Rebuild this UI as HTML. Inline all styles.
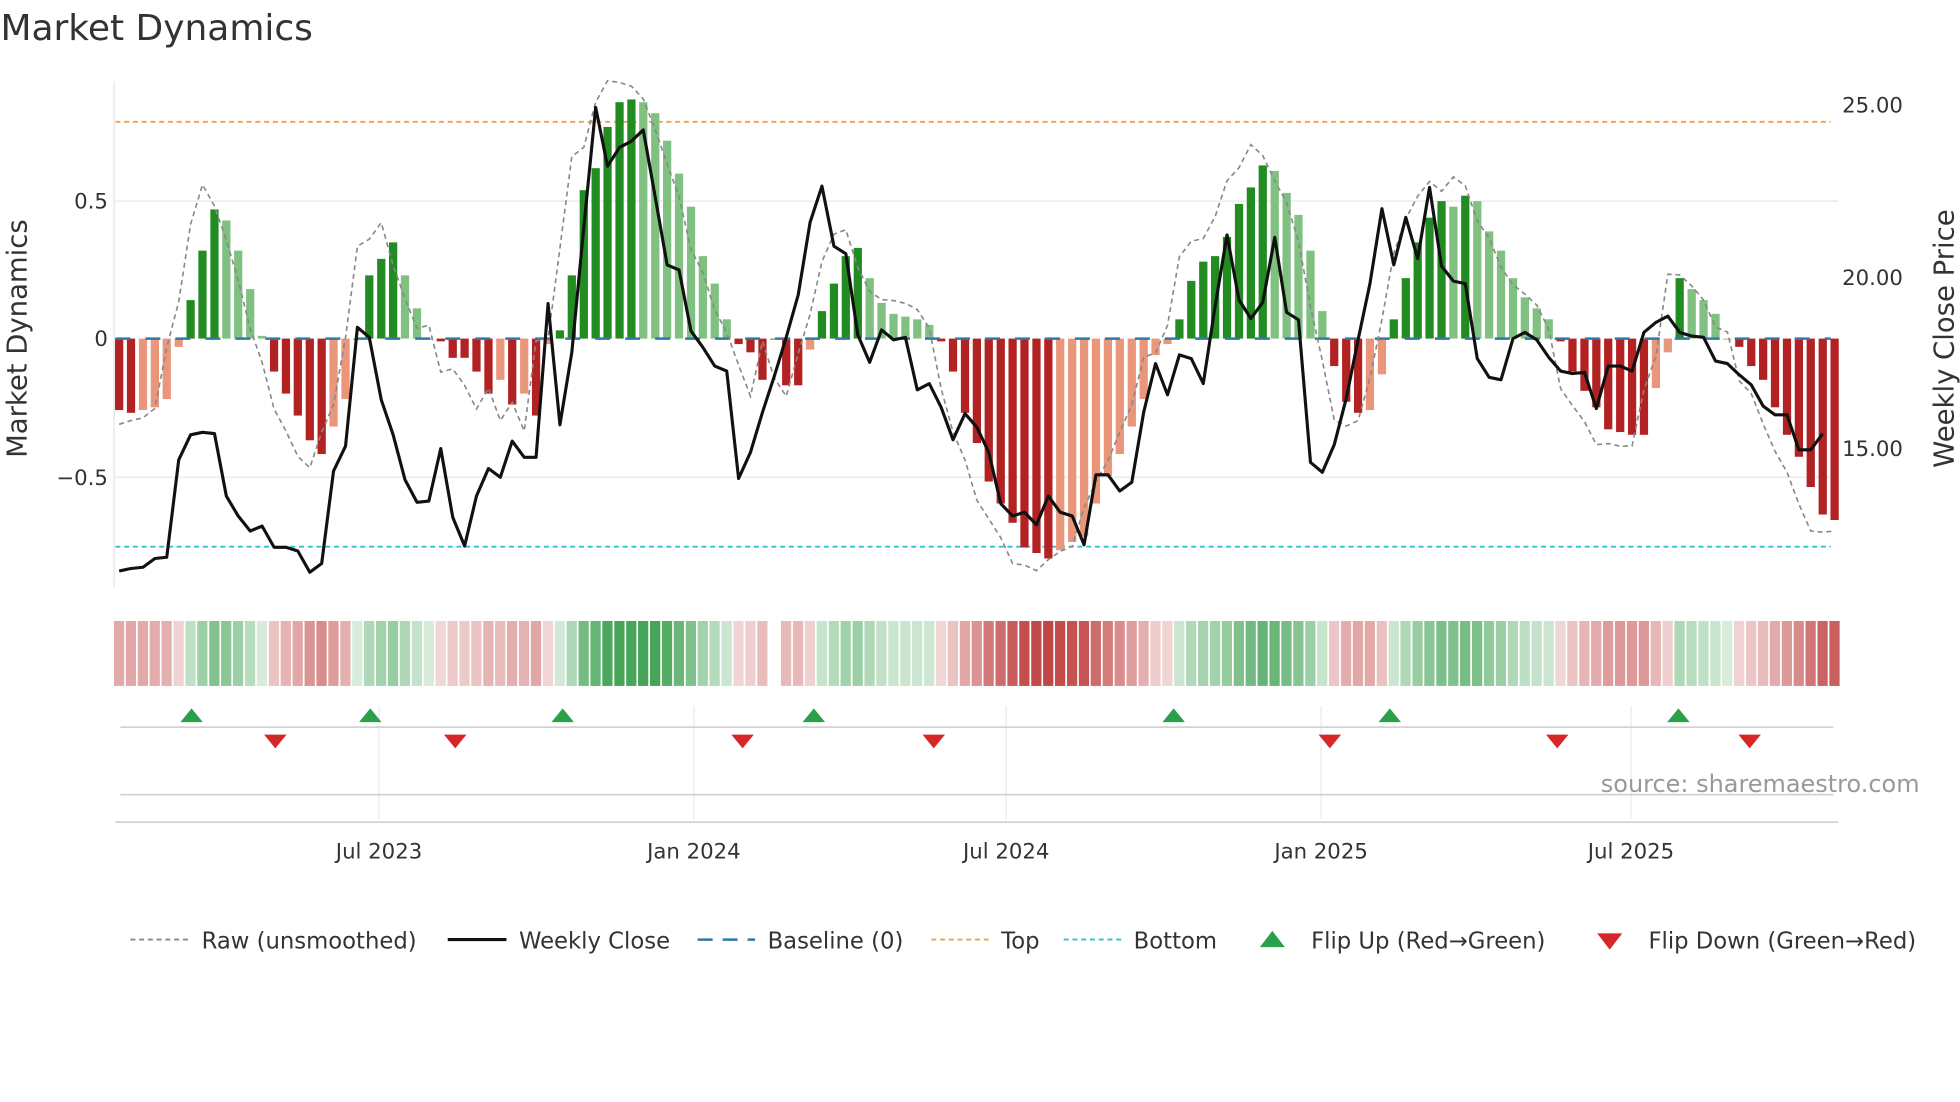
<!DOCTYPE html>
<html><head><meta charset="utf-8"><style>
html,body{margin:0;padding:0;background:#fff;}
svg{display:block;font-family:"DejaVu Sans","Liberation Sans",sans-serif;}
</style></head><body>
<svg id="s" width="1960" height="1102" viewBox="0 0 1568 882" xmlns="http://www.w3.org/2000/svg">
<rect width="1568" height="882" fill="#fff"/>
<text x="0" y="32" font-size="28.8" fill="#333">Market Dynamics</text>
<line x1="92" x2="1471" y1="161" y2="161" stroke="#e8ecef" stroke-width="1.2"/>
<line x1="92" x2="1471" y1="382" y2="382" stroke="#e8ecef" stroke-width="1.2"/>
<line x1="91" x2="91" y1="65" y2="470" stroke="#e4e4e4" stroke-width="1"/>
<text x="86" y="167" font-size="17" fill="#333" text-anchor="end">0.5</text>
<text x="86" y="277" font-size="17" fill="#333" text-anchor="end">0</text>
<text x="86" y="388" font-size="17" fill="#333" text-anchor="end">−0.5</text>
<text x="1474" y="90" font-size="17" fill="#333">25.00</text>
<text x="1474" y="228" font-size="17" fill="#333">20.00</text>
<text x="1474" y="365" font-size="17" fill="#333">15.00</text>
<text transform="translate(21,271) rotate(-90)" font-size="22" fill="#333" text-anchor="middle">Market Dynamics</text>
<text transform="translate(1563,271) rotate(-90)" font-size="22" fill="#333" text-anchor="middle">Weekly Close Price</text>
<line x1="92" x2="1465" y1="97.5" y2="97.5" stroke="#f0a050" stroke-width="1.5" stroke-dasharray="4,3"/>
<line x1="92" x2="1465" y1="437.5" y2="437.5" stroke="#30c0d8" stroke-width="1.5" stroke-dasharray="4,3"/>
<g id="bars"></g>
<line x1="92" x2="1465" y1="271" y2="271" stroke="#2f78a8" stroke-width="2" stroke-dasharray="12,12"/>
<polyline id="raw" fill="none" stroke="#888" stroke-width="1.3" stroke-dasharray="4,3"/>
<polyline id="close" fill="none" stroke="#111" stroke-width="2.5" stroke-linejoin="round"/>
<g id="strip"></g>
<g stroke="#eaeaea" stroke-width="1">
<line x1="303" x2="303" y1="565" y2="656"/><line x1="555" x2="555" y1="565" y2="656"/><line x1="805" x2="805" y1="565" y2="656"/><line x1="1057" x2="1057" y1="565" y2="656"/><line x1="1305" x2="1305" y1="565" y2="656"/>
</g>
<line x1="96" x2="1467" y1="582" y2="582" stroke="#ccc" stroke-width="1.2"/>
<line x1="96" x2="1467" y1="636" y2="636" stroke="#ccc" stroke-width="1.2"/>
<line x1="92" x2="1471" y1="658" y2="658" stroke="#ccc" stroke-width="1.2"/>
<g id="flips"></g>
<text x="1536" y="634" font-size="19.2" fill="#999" text-anchor="end">source: sharemaestro.com</text>
<g font-size="17" fill="#333" text-anchor="middle">
<text x="303" y="687">Jul 2023</text><text x="555" y="687">Jan 2024</text><text x="805" y="687">Jul 2024</text><text x="1057" y="687">Jan 2025</text><text x="1305" y="687">Jul 2025</text>
</g>
<g font-size="18.2" fill="#333">
<line x1="104" x2="150" y1="752" y2="752" stroke="#888" stroke-width="1.5" stroke-dasharray="4,3"/><text x="161" y="759">Raw (unsmoothed)</text>
<line x1="358" x2="405" y1="752" y2="752" stroke="#111" stroke-width="2.5"/><text x="415" y="759">Weekly Close</text>
<line x1="558" x2="604" y1="752" y2="752" stroke="#2f78a8" stroke-width="2" stroke-dasharray="12,8"/><text x="614" y="759">Baseline (0)</text>
<line x1="745" x2="791" y1="752" y2="752" stroke="#f0a050" stroke-width="1.5" stroke-dasharray="4,3"/><text x="801" y="759">Top</text>
<line x1="851" x2="897" y1="752" y2="752" stroke="#30c0d8" stroke-width="1.5" stroke-dasharray="4,3"/><text x="907" y="759">Bottom</text>
<polygon points="1008,758 1018,745 1028,758" fill="#2aa04a"/><text x="1049" y="759">Flip Up (Red→Green)</text>
<polygon points="1278,747 1298,747 1288,760" fill="#d62728"/><text x="1319" y="759">Flip Down (Green→Red)</text>
</g>
</svg>
<script>
var v=[-0.26,-0.27,-0.26,-0.25,-0.22,-0.03,0.14,0.32,0.47,0.43,0.32,0.18,0.01,-0.12,-0.2,-0.28,-0.37,-0.42,-0.32,-0.22,0,0.23,0.29,0.35,0.23,0.11,0,-0.01,-0.07,-0.07,-0.12,-0.2,-0.15,-0.24,-0.2,-0.28,-0.02,0.03,0.23,0.54,0.62,0.77,0.86,0.87,0.86,0.82,0.72,0.6,0.48,0.3,0.2,0.07,-0.02,-0.05,-0.15,-0.0,-0.17,-0.17,-0.04,0.1,0.2,0.3,0.33,0.22,0.13,0.09,0.08,0.07,0.05,-0.01,-0.12,-0.27,-0.38,-0.52,-0.6,-0.67,-0.76,-0.78,-0.8,-0.77,-0.74,-0.72,-0.6,-0.5,-0.42,-0.32,-0.22,-0.06,-0.02,0.07,0.21,0.28,0.3,0.37,0.49,0.55,0.63,0.61,0.53,0.45,0.32,0.1,-0.1,-0.23,-0.27,-0.26,-0.13,0.07,0.22,0.35,0.44,0.5,0.48,0.52,0.5,0.39,0.32,0.22,0.15,0.11,0.07,-0.01,-0.12,-0.19,-0.25,-0.33,-0.34,-0.35,-0.35,-0.18,-0.05,0.22,0.18,0.14,0.09,0.0,-0.03,-0.1,-0.15,-0.25,-0.35,-0.43,-0.54,-0.64,-0.66];
var c=[457,455,454,447,446,368,348,346,347,397,413,425,421,438,438,441,458,451,377,357,262,270,320,348,384,402,401,359,414,437,397,375,382,353,366,366,243,340,282,182,86,133,118,113,104,158,212,216,265,278,293,297,383,362,330,301,270,236,178,149,197,203,268,290,264,272,270,312,307,326,352,331,342,362,403,413,410,420,397,410,413,436,380,380,393,386,330,291,316,284,287,307,245,188,240,255,242,190,250,256,370,378,356,319,272,227,167,212,174,207,150,213,225,227,287,302,304,271,266,272,286,297,299,298,327,293,293,297,266,258,253,266,269,270,289,291,300,308,325,332,332,360,360,347];
var n=v.length,x0=95,dx=1373/(n-1),B='',S='',R=[],C=[];
for(var i=0;i<n;i++){var x=x0+i*dx,y=271-v[i]*220,p=i?v[i-1]:v[i],col;
if(v[i]>=0)col=(v[i]>=p)?'#228b22':'#80c080';else col=(v[i]<=p)?'#b22222':'#e9967a';
B+='<rect x="'+(x-3.3).toFixed(1)+'" y="'+Math.min(y,271).toFixed(1)+'" width="6.6" height="'+Math.max(Math.abs(y-271),0.8).toFixed(1)+'" fill="'+col+'"/>';
var a=0.2+0.75*Math.min(Math.abs(v[i]),0.8)/0.8;
if(i!=55)S+='<rect x="'+(x-4.2).toFixed(1)+'" y="497" width="8.2" height="52" fill="'+(v[i]>=0?'rgba(60,160,80,':'rgba(190,60,60,')+a.toFixed(2)+')"/>';
var nx=i<n-1?v[i+1]:v[i];var r=v[i]+1.2*(nx-v[i])+(v[i]>=0?0.06:-0.04);
R.push(x.toFixed(1)+','+(271-r*220).toFixed(1));C.push(x.toFixed(1)+','+c[i]);}
document.getElementById('bars').innerHTML=B;document.getElementById('strip').innerHTML=S;
document.getElementById('raw').setAttribute('points',R.join(' '));document.getElementById('close').setAttribute('points',C.join(' '));
var F='';[153,296,450,651,939,1112,1343].forEach(function(x){F+='<polygon points="'+(x-9)+',578 '+x+',567 '+(x+9)+',578" fill="#2aa04a"/>';});
[220,364,594,747,1064,1246,1400].forEach(function(x){F+='<polygon points="'+(x-9)+',588 '+(x+9)+',588 '+x+',599" fill="#d62728"/>';});
document.getElementById('flips').innerHTML=F;
</script>
</body></html>
